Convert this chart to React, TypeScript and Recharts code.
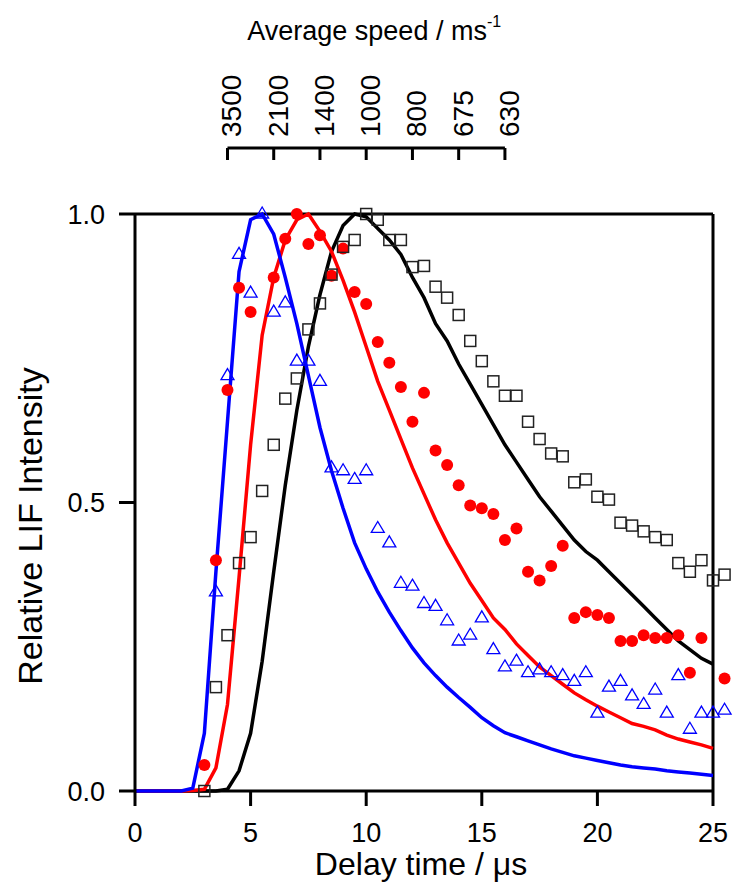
import React from 'react'
import { ComposedChart, LineChart, Line, Scatter, XAxis, YAxis, ReferenceLine } from 'recharts'

// delay time grid for the simulated curves (µs)
const lineT = [
  0, 0.5, 1, 1.5, 2, 2.5, 3, 3.5, 4, 4.5, 5, 5.5, 6, 6.5, 7, 7.5, 8, 8.5, 9, 9.5, 10,
  10.5, 11, 11.5, 12, 12.5, 13, 13.5, 14, 14.5, 15, 15.5, 16, 16.5, 17, 17.5, 18, 18.5,
  19, 19.5, 20, 20.5, 21, 21.5, 22, 22.5, 23, 23.5, 24, 24.5, 25,
]
const blueLine = [
  0, 0, 0, 0, 0, 0.005, 0.1, 0.38, 0.64, 0.9, 0.99, 1.0, 0.965, 0.89, 0.81, 0.72, 0.63,
  0.555, 0.49, 0.43, 0.385, 0.345, 0.31, 0.278, 0.248, 0.222, 0.2, 0.18, 0.162, 0.145,
  0.127, 0.113, 0.101, 0.094, 0.087, 0.08, 0.073, 0.067, 0.061, 0.057, 0.053, 0.049,
  0.045, 0.042, 0.04, 0.038, 0.035, 0.033, 0.031, 0.029, 0.027,
]
const redLine = [
  0, 0, 0, 0, 0, 0.001, 0.003, 0.04, 0.15, 0.37, 0.6, 0.79, 0.89, 0.955, 0.99, 1.0, 0.97,
  0.935, 0.885, 0.83, 0.77, 0.71, 0.66, 0.61, 0.56, 0.515, 0.47, 0.43, 0.395, 0.36, 0.33,
  0.3, 0.28, 0.255, 0.235, 0.215, 0.2, 0.185, 0.17, 0.158, 0.147, 0.137, 0.127, 0.117,
  0.112, 0.106, 0.097, 0.09, 0.085, 0.08, 0.074,
]
const blackLine = [
  0, 0, 0, 0, 0, 0, 0, 0, 0.003, 0.035, 0.1, 0.225, 0.38, 0.53, 0.66, 0.77, 0.86, 0.935,
  0.98, 1.0, 0.995, 0.975, 0.955, 0.93, 0.89, 0.855, 0.81, 0.78, 0.74, 0.705, 0.67, 0.635,
  0.6, 0.57, 0.54, 0.51, 0.485, 0.46, 0.435, 0.415, 0.4, 0.38, 0.36, 0.34, 0.32, 0.3,
  0.28, 0.26, 0.245, 0.23, 0.22,
]

// measured points
const squareT = [
  3, 3.5, 4, 4.5, 5, 5.5, 6, 6.5, 7, 7.5, 8, 8.5, 9, 9.5, 10, 10.5, 11, 11.5, 12, 12.5, 13,
  13.5, 14, 14.5, 15, 15.5, 16, 16.5, 17, 17.5, 18, 18.5, 19, 19.5, 20, 20.5, 21, 21.5, 22,
  22.5, 23, 23.5, 24, 24.5, 25, 25.5,
]
const squareV = [
  0, 0.18, 0.27, 0.395, 0.44, 0.52, 0.6, 0.68, 0.715, 0.8, 0.845, 0.895, 0.943, 0.955, 1.0,
  0.99, 0.955, 0.955, 0.908, 0.91, 0.874, 0.855, 0.825, 0.78, 0.745, 0.71, 0.685, 0.685,
  0.64, 0.61, 0.585, 0.58, 0.535, 0.54, 0.51, 0.505, 0.465, 0.46, 0.45, 0.44, 0.435, 0.395,
  0.38, 0.4, 0.365, 0.375,
]
const circleT = [
  3, 3.5, 4, 4.5, 5, 6, 6.5, 7, 7.5, 8, 8.5, 9, 9.5, 10, 10.5, 11, 11.5, 12, 12.5, 13, 13.5,
  14, 14.5, 15, 15.5, 16, 16.5, 17, 17.5, 18, 18.5, 19, 19.5, 20, 20.5, 21, 21.5, 22, 22.5,
  23, 23.5, 24, 24.5, 25.5,
]
const circleV = [
  0.045, 0.4, 0.695, 0.872, 0.83, 0.89, 0.957, 1.0, 0.948, 0.963, 0.893, 0.94, 0.865, 0.844,
  0.778, 0.742, 0.7, 0.64, 0.69, 0.59, 0.565, 0.53, 0.495, 0.49, 0.48, 0.435, 0.455, 0.38,
  0.365, 0.39, 0.425, 0.3, 0.31, 0.305, 0.3, 0.26, 0.26, 0.27, 0.265, 0.265, 0.27, 0.205,
  0.265, 0.195,
]
const triangleT = [
  3.5, 4, 4.5, 5, 5.5, 6, 6.5, 7, 7.5, 8, 8.5, 9, 9.5, 10, 10.5, 11, 11.5, 12, 12.5, 13,
  13.5, 14, 14.5, 15, 15.5, 16, 16.5, 17, 17.5, 18, 18.5, 19, 19.5, 20, 20.5, 21, 21.5, 22,
  22.5, 23, 23.5, 24, 24.5, 25, 25.5,
]
const triangleV = [
  0.345, 0.72, 0.93, 0.863, 1.0, 0.83, 0.846, 0.745, 0.745, 0.71, 0.56, 0.555, 0.54, 0.555,
  0.455, 0.43, 0.36, 0.355, 0.325, 0.32, 0.295, 0.26, 0.27, 0.3, 0.245, 0.215, 0.225, 0.205,
  0.21, 0.205, 0.2, 0.19, 0.205, 0.135, 0.18, 0.19, 0.165, 0.15, 0.175, 0.135, 0.2, 0.107,
  0.135, 0.135, 0.14,
]

const timeTicks = [0, 5, 10, 15, 20, 25]
const intensityTicks = [0, 0.5, 1]
const speedTicks = [4, 6, 8, 10, 12, 14, 16]
const speedLabels = ['3500', '2100', '1400', '1000', '800', '675', '630']

const pairs = (t: number[], v: number[]) => t.map((x, i) => ({ t: x, v: v[i] }))
const blueData = pairs(lineT, blueLine)
const redData = pairs(lineT, redLine)
const blackData = pairs(lineT, blackLine)
const squares = pairs(squareT, squareV)
const circles = pairs(circleT, circleV)
const triangles = pairs(triangleT, triangleV)
const speedRows = speedTicks.map((t, i) => ({ t, label: speedLabels[i] }))

const W = 737
const H = 883
const LEFT = 135
const TOP = 214
const BOTTOM = 791
const UNIT = 23.12
const XMAX = 26
const TOP_AXIS_Y = 148

const Square = (p: any) => (
  <rect x={p.cx - 5.5} y={p.cy - 5.5} width={11} height={11} fill="none" stroke="#222" strokeWidth={1.5} />
)
const Dot = (p: any) => <circle cx={p.cx} cy={p.cy} r={6} fill="#ff0000" />
const Triangle = (p: any) => (
  <path
    d={`M${p.cx},${p.cy - 7}L${p.cx + 6.5},${p.cy + 4}L${p.cx - 6.5},${p.cy + 4}Z`}
    fill="none"
    stroke="#0000ff"
    strokeWidth={1.3}
  />
)

const SpeedTick = (props: any) => {
  const { x, y, payload } = props
  const label = speedLabels[speedTicks.indexOf(payload.value)]
  const ty = y - 11
  return (
    <g>
      <line x1={x} y1={y} x2={x} y2={y + 17} stroke="#000" strokeWidth={3} />
      <text
        x={x}
        y={ty}
        dy="0.5em"
        transform={`rotate(-90, ${x}, ${ty})`}
        textAnchor="start"
        fill="#000"
        style={{ fontSize: 28 }}
      >
        {label}
      </text>
    </g>
  )
}

const SpeedTitle = (props: any) => {
  const vb = props.viewBox
  return (
    <text x={vb.x + vb.width / 2 + 8} y={40} textAnchor="middle" fill="#000" style={{ fontSize: 27 }}>
      Average speed / ms
      <tspan dy={-13} style={{ fontSize: 16 }}>-1</tspan>
    </text>
  )
}

const YTitle = () => (
  <text x={30} y={526} dy="0.35em" transform="rotate(-90, 30, 526)" textAnchor="middle" fill="#000" style={{ fontSize: 34 }}>
    Relative LIF Intensity
  </text>
)

const XTitle = (props: any) => {
  const vb = props.viewBox
  return (
    <text x={vb.x + (25 * UNIT) / 2 - 3} y={875} textAnchor="middle" fill="#000" style={{ fontSize: 32 }}>
      Delay time / μs
    </text>
  )
}

export default function App() {
  return (
    <div
      style={{
        position: 'absolute',
        left: 0,
        top: 0,
        width: W,
        height: H,
        background: '#fff',
        fontFamily: '"Liberation Sans", Arial, sans-serif',
      }}
    >
      <ComposedChart
        width={W}
        height={H}
        margin={{ top: TOP, right: W - LEFT - UNIT * XMAX, bottom: 0, left: 0 }}
      >
        <XAxis
          dataKey="t"
          type="number"
          domain={[0, XMAX]}
          ticks={timeTicks}
          height={H - BOTTOM}
          axisLine={false}
          tickLine={{ stroke: '#000', strokeWidth: 3 }}
          tickSize={15}
          tickMargin={17}
          tick={{ fontSize: 27, fill: '#000' }}
          label={XTitle}
        />
        <YAxis
          type="number"
          domain={[0, 1]}
          ticks={intensityTicks}
          width={LEFT}
          axisLine={{ stroke: '#000', strokeWidth: 3 }}
          tickLine={{ stroke: '#000', strokeWidth: 3 }}
          tickSize={16}
          tickMargin={14}
          tick={{ fontSize: 27, fill: '#000' }}
          tickFormatter={(v: number) => v.toFixed(1)}
          label={YTitle}
        />
        <ReferenceLine segment={[{ x: 0, y: 1 }, { x: 25, y: 1 }]} stroke="#000" strokeWidth={3} />
        <ReferenceLine segment={[{ x: 0, y: 0 }, { x: 25, y: 0 }]} stroke="#000" strokeWidth={3} />
        <ReferenceLine x={25} stroke="#000" strokeWidth={3} />
        <Line data={blackData} dataKey="v" type="linear" stroke="#000" strokeWidth={3.5} dot={false} isAnimationActive={false} />
        <Line data={redData} dataKey="v" type="linear" stroke="#ff0000" strokeWidth={3.5} dot={false} isAnimationActive={false} />
        <Line data={blueData} dataKey="v" type="linear" stroke="#0000ff" strokeWidth={3.5} dot={false} isAnimationActive={false} />
        <Scatter data={circles} dataKey="v" shape={Dot} isAnimationActive={false} />
        <Scatter data={triangles} dataKey="v" shape={Triangle} isAnimationActive={false} />
        <Scatter data={squares} dataKey="v" shape={Square} isAnimationActive={false} />
      </ComposedChart>
      <div style={{ position: 'absolute', left: 0, top: 0, pointerEvents: 'none' }}>
        <LineChart
          width={W}
          height={160}
          data={speedRows}
          margin={{
            top: 0,
            left: LEFT + 4 * UNIT,
            right: W - (LEFT + 16 * UNIT),
            bottom: 160 - TOP_AXIS_Y - 6,
          }}
        >
          <XAxis
            dataKey="t"
            type="number"
            orientation="top"
            domain={[4, 16]}
            ticks={speedTicks}
            height={TOP_AXIS_Y}
            axisLine={{ stroke: '#000', strokeWidth: 3 }}
            tickLine={false}
            tickSize={0}
            tickMargin={0}
            tick={SpeedTick}
            label={SpeedTitle}
          />
          <YAxis hide domain={[0, 1]} />
        </LineChart>
      </div>
    </div>
  )
}
